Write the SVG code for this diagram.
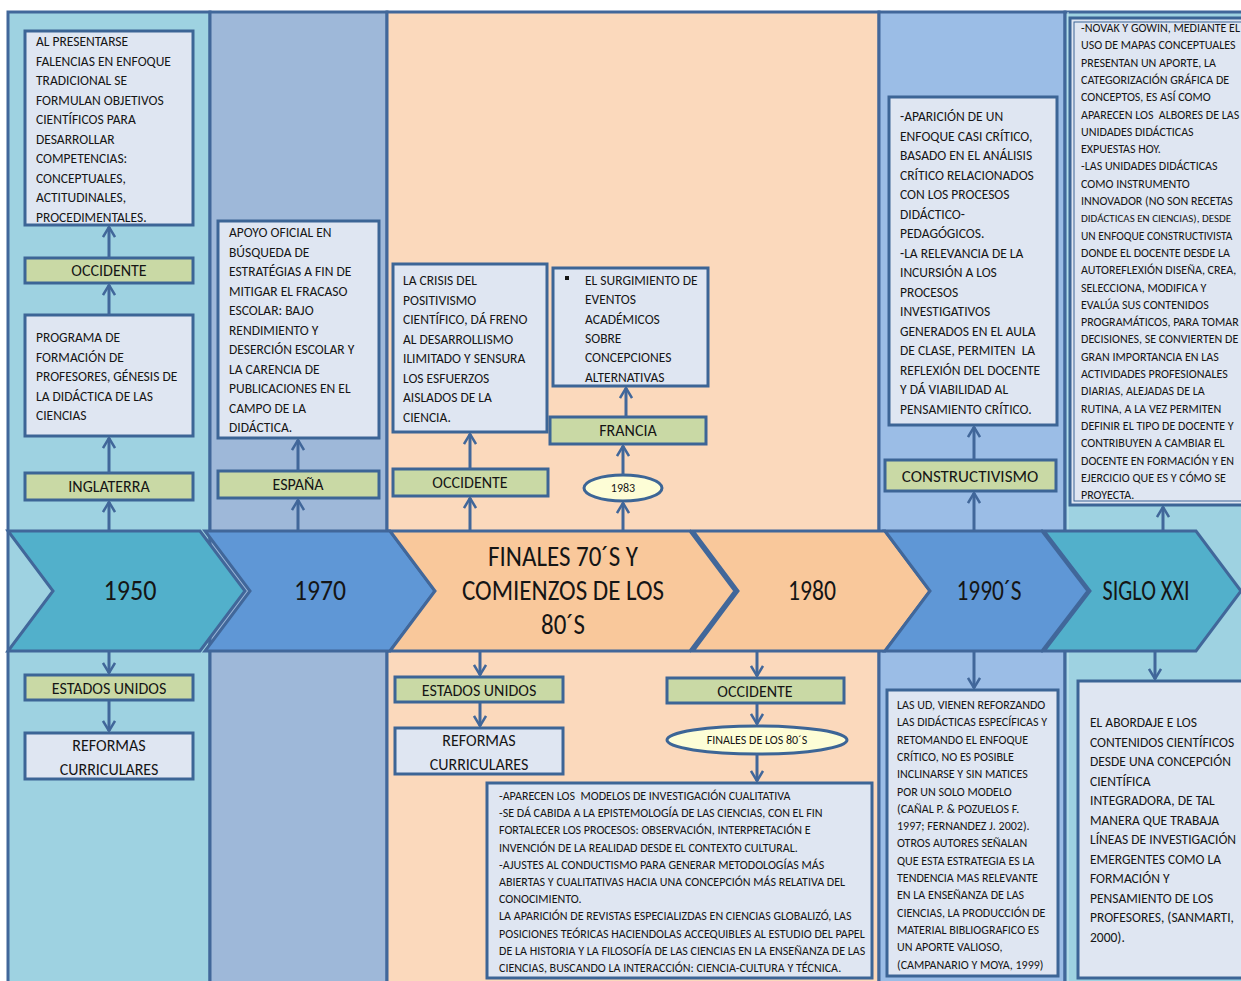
<svg xmlns="http://www.w3.org/2000/svg" width="1241" height="981" viewBox="0 0 1241 981">
<defs>
<style>
.col{stroke:#41679a;stroke-width:3}
.box{fill:#dfe6f2;stroke:#3c6596;stroke-width:3}
.lbl{fill:#c9d9a5;stroke:#3c6596;stroke-width:3}
.ell{fill:#fdfdd6;stroke:#3c6596;stroke-width:3}
.chev{stroke:#41679a;stroke-width:3;stroke-linejoin:miter}
text{font-family:"Liberation Sans Narrow","Carlito","Liberation Sans",sans-serif;fill:#151515}
.t{font-size:13.5px}
.s{font-size:12px}
.l{font-size:16px;text-anchor:middle}
.big{font-size:28px;text-anchor:middle}
.e{font-size:12px;text-anchor:middle}
.conn line{stroke:#41679a;stroke-width:3;marker-end:url(#ah)}
</style>
<marker id="ah" markerUnits="userSpaceOnUse" viewBox="0 0 12 14" refX="11" refY="7" markerWidth="12" markerHeight="14" orient="auto">
<path d="M1,1 L11,7 L1,13" fill="none" stroke="#41679a" stroke-width="2.5"/>
</marker>
</defs>
<rect width="1241" height="981" fill="#ffffff"/>
<g id="columns">
<rect class="col" x="8" y="12" width="202" height="975" fill="#9ed2e1"/>
<rect class="col" x="210" y="12" width="177" height="975" fill="#9eb8d9"/>
<rect class="col" x="387" y="12" width="492" height="975" fill="#fbd9bc"/>
<rect class="col" x="879" y="12" width="186" height="975" fill="#9bbde6"/>
<rect class="col" x="1065" y="12" width="190" height="975" fill="#9ed2e1"/>
<line x1="1068" y1="12" x2="1068" y2="981" stroke="#c4e4ee" stroke-width="1"/>
</g>
<g id="timeline">
<polygon class="chev" points="8,531 200,531 245,591 200,651 8,651 53,591" fill="#52b0cb"/>
<polygon class="chev" points="205,531 390,531 435,591 390,651 205,651 250,591" fill="#5f97d6"/>
<polygon class="chev" points="390,531 690,531 735,591 690,651 390,651 435,591" fill="#f9c89b"/>
<polygon class="chev" points="693,531 885,531 930,591 885,651 693,651 738,591" fill="#f9c89b"/>
<polygon class="chev" points="885,531 1042,531 1088,591 1042,651 885,651 930,591" fill="#5f97d6"/>
<polygon class="chev" points="1044,531 1196,531 1241,591 1196,651 1044,651 1090,591" fill="#52b0cb"/>
<text class="big" x="130" y="600" textLength="53" lengthAdjust="spacingAndGlyphs">1950</text>
<text class="big" x="320" y="600" textLength="52" lengthAdjust="spacingAndGlyphs">1970</text>
<text class="big" x="563" y="566" textLength="150" lengthAdjust="spacingAndGlyphs">FINALES 70´S Y</text>
<text class="big" x="563" y="600" textLength="202" lengthAdjust="spacingAndGlyphs">COMIENZOS DE LOS</text>
<text class="big" x="563" y="634" textLength="44" lengthAdjust="spacingAndGlyphs">80´S</text>
<text class="big" x="812" y="600" textLength="48" lengthAdjust="spacingAndGlyphs">1980</text>
<text class="big" x="989" y="600" textLength="65" lengthAdjust="spacingAndGlyphs">1990´S</text>
<text class="big" x="1146" y="600" textLength="87" lengthAdjust="spacingAndGlyphs">SIGLO XXI</text>
</g>
<g id="n-col1-text">
<rect class="box" x="25" y="31" width="168" height="194"/>
<text class="t" x="36" y="46"><tspan x="36">AL PRESENTARSE</tspan><tspan x="36" dy="19.5">FALENCIAS EN ENFOQUE</tspan><tspan x="36" dy="19.5">TRADICIONAL SE</tspan><tspan x="36" dy="19.5">FORMULAN OBJETIVOS</tspan><tspan x="36" dy="19.5">CIENTÍFICOS PARA</tspan><tspan x="36" dy="19.5">DESARROLLAR</tspan><tspan x="36" dy="19.5">COMPETENCIAS:</tspan><tspan x="36" dy="19.5">CONCEPTUALES,</tspan><tspan x="36" dy="19.5">ACTITUDINALES,</tspan><tspan x="36" dy="19.5">PROCEDIMENTALES.</tspan></text>
</g>
<g id="n-occidente1">
<rect class="lbl" x="25" y="258" width="168" height="25"/>
<text class="l" x="109" y="276">OCCIDENTE</text>
</g>
<g id="n-programa">
<rect class="box" x="25" y="315" width="168" height="121"/>
<text class="t" x="36" y="342"><tspan x="36">PROGRAMA DE</tspan><tspan x="36" dy="19.5">FORMACIÓN DE</tspan><tspan x="36" dy="19.5">PROFESORES, GÉNESIS DE</tspan><tspan x="36" dy="19.5">LA DIDÁCTICA DE LAS</tspan><tspan x="36" dy="19.5">CIENCIAS</tspan></text>
</g>
<g id="n-inglaterra">
<rect class="lbl" x="25" y="473" width="168" height="27"/>
<text class="l" x="109" y="492">INGLATERRA</text>
</g>
<g id="n-eeuu1">
<rect class="lbl" x="25" y="675" width="168" height="25"/>
<text class="l" x="109" y="694">ESTADOS UNIDOS</text>
</g>
<g id="n-reformas1">
<rect class="box" x="25" y="733" width="168" height="46"/>
<text class="l" x="109" y="751">REFORMAS</text>
<text class="l" x="109" y="775">CURRICULARES</text>
</g>
<g id="n-apoyo">
<rect class="box" x="218" y="221" width="161" height="217"/>
<text class="t" x="229" y="237"><tspan x="229">APOYO OFICIAL EN</tspan><tspan x="229" dy="19.5">BÚSQUEDA DE</tspan><tspan x="229" dy="19.5">ESTRATÉGIAS A FIN DE</tspan><tspan x="229" dy="19.5">MITIGAR EL FRACASO</tspan><tspan x="229" dy="19.5">ESCOLAR: BAJO</tspan><tspan x="229" dy="19.5">RENDIMIENTO Y</tspan><tspan x="229" dy="19.5">DESERCIÓN ESCOLAR Y</tspan><tspan x="229" dy="19.5">LA CARENCIA DE</tspan><tspan x="229" dy="19.5">PUBLICACIONES EN EL</tspan><tspan x="229" dy="19.5">CAMPO DE LA</tspan><tspan x="229" dy="19.5">DIDÁCTICA.</tspan></text>
</g>
<g id="n-espana">
<rect class="lbl" x="218" y="471" width="161" height="27"/>
<text class="l" x="298" y="490">ESPAÑA</text>
</g>
<g id="n-crisis">
<rect class="box" x="393" y="264" width="154" height="168"/>
<text class="t" x="403" y="285"><tspan x="403">LA CRISIS DEL</tspan><tspan x="403" dy="19.5">POSITIVISMO</tspan><tspan x="403" dy="19.5">CIENTÍFICO, DÁ FRENO</tspan><tspan x="403" dy="19.5">AL DESARROLLISMO</tspan><tspan x="403" dy="19.5">ILIMITADO Y SENSURA</tspan><tspan x="403" dy="19.5">LOS ESFUERZOS</tspan><tspan x="403" dy="19.5">AISLADOS DE LA</tspan><tspan x="403" dy="19.5">CIENCIA.</tspan></text>
</g>
<g id="n-occidente2">
<rect class="lbl" x="393" y="469" width="155" height="27"/>
<text class="l" x="470" y="488">OCCIDENTE</text>
</g>
<g id="n-surgimiento">
<rect class="box" x="553" y="268" width="155" height="118"/>
<rect x="565" y="276" width="4" height="4" fill="#151515"/>
<text class="t" x="585" y="285"><tspan x="585">EL SURGIMIENTO DE</tspan><tspan x="585" dy="19.3">EVENTOS</tspan><tspan x="585" dy="19.3">ACADÉMICOS</tspan><tspan x="585" dy="19.3">SOBRE</tspan><tspan x="585" dy="19.3">CONCEPCIONES</tspan><tspan x="585" dy="19.3">ALTERNATIVAS</tspan></text>
</g>
<g id="n-francia">
<rect class="lbl" x="550" y="417" width="156" height="27"/>
<text class="l" x="628" y="436">FRANCIA</text>
</g>
<g id="n-1983">
<ellipse class="ell" cx="623" cy="488" rx="39" ry="13"/>
<text class="e" x="623" y="492">1983</text>
</g>
<g id="n-eeuu2">
<rect class="lbl" x="395" y="677" width="168" height="25"/>
<text class="l" x="479" y="696">ESTADOS UNIDOS</text>
</g>
<g id="n-reformas2">
<rect class="box" x="395" y="728" width="168" height="46"/>
<text class="l" x="479" y="746">REFORMAS</text>
<text class="l" x="479" y="770">CURRICULARES</text>
</g>
<g id="n-occidente3">
<rect class="lbl" x="667" y="678" width="177" height="25"/>
<text class="l" x="755" y="697">OCCIDENTE</text>
</g>
<g id="n-finales80">
<ellipse class="ell" cx="757" cy="740" rx="90" ry="14"/>
<text class="e" x="757" y="744">FINALES DE LOS 80´S</text>
</g>
<g id="n-aparecen">
<rect class="box" x="487" y="783" width="385" height="195"/>
<text class="s" x="499" y="800"><tspan x="499">-APARECEN LOS&#160; MODELOS DE INVESTIGACIÓN CUALITATIVA</tspan><tspan x="499" dy="17.2">-SE DÁ CABIDA A LA EPISTEMOLOGÍA DE LAS CIENCIAS, CON EL FIN</tspan><tspan x="499" dy="17.2">FORTALECER LOS PROCESOS: OBSERVACIÓN, INTERPRETACIÓN E</tspan><tspan x="499" dy="17.2">INVENCIÓN DE LA REALIDAD DESDE EL CONTEXTO CULTURAL.</tspan><tspan x="499" dy="17.2">-AJUSTES AL CONDUCTISMO PARA GENERAR METODOLOGÍAS MÁS</tspan><tspan x="499" dy="17.2">ABIERTAS Y CUALITATIVAS HACIA UNA CONCEPCIÓN MÁS RELATIVA DEL</tspan><tspan x="499" dy="17.2">CONOCIMIENTO.</tspan><tspan x="499" dy="17.2">LA APARICIÓN DE REVISTAS ESPECIALIZDAS EN CIENCIAS GLOBALIZÓ, LAS</tspan><tspan x="499" dy="17.2">POSICIONES TEÓRICAS HACIENDOLAS ACCEQUIBLES AL ESTUDIO DEL PAPEL</tspan><tspan x="499" dy="17.2">DE LA HISTORIA Y LA FILOSOFÍA DE LAS CIENCIAS EN LA ENSEÑANZA DE LAS</tspan><tspan x="499" dy="17.2">CIENCIAS, BUSCANDO LA INTERACCIÓN: CIENCIA-CULTURA Y TÉCNICA.</tspan></text>
</g>
<g id="n-aparicion">
<rect class="box" x="889" y="97" width="168" height="328"/>
<text class="t" x="900" y="121"><tspan x="900">-APARICIÓN DE UN</tspan><tspan x="900" dy="19.5">ENFOQUE CASI CRÍTICO,</tspan><tspan x="900" dy="19.5">BASADO EN EL ANÁLISIS</tspan><tspan x="900" dy="19.5">CRÍTICO RELACIONADOS</tspan><tspan x="900" dy="19.5">CON LOS PROCESOS</tspan><tspan x="900" dy="19.5">DIDÁCTICO-</tspan><tspan x="900" dy="19.5">PEDAGÓGICOS.</tspan><tspan x="900" dy="19.5">-LA RELEVANCIA DE LA</tspan><tspan x="900" dy="19.5">INCURSIÓN A LOS</tspan><tspan x="900" dy="19.5">PROCESOS</tspan><tspan x="900" dy="19.5">INVESTIGATIVOS</tspan><tspan x="900" dy="19.5">GENERADOS EN EL AULA</tspan><tspan x="900" dy="19.5">DE CLASE, PERMITEN&#160; LA</tspan><tspan x="900" dy="19.5">REFLEXIÓN DEL DOCENTE</tspan><tspan x="900" dy="19.5">Y DÁ VIABILIDAD AL</tspan><tspan x="900" dy="19.5">PENSAMIENTO CRÍTICO.</tspan></text>
</g>
<g id="n-constructivismo">
<rect class="lbl" x="885" y="460" width="171" height="31"/>
<text class="l" x="970" y="482" style="font-size:17px">CONSTRUCTIVISMO</text>
</g>
<g id="n-lasud">
<rect class="box" x="887" y="690" width="171" height="286"/>
<text class="s" x="897" y="709"><tspan x="897">LAS UD, VIENEN REFORZANDO</tspan><tspan x="897" dy="17.3">LAS DIDÁCTICAS ESPECÍFICAS Y</tspan><tspan x="897" dy="17.3">RETOMANDO EL ENFOQUE</tspan><tspan x="897" dy="17.3">CRÍTICO, NO ES POSIBLE</tspan><tspan x="897" dy="17.3">INCLINARSE Y SIN MATICES</tspan><tspan x="897" dy="17.3">POR UN SOLO MODELO</tspan><tspan x="897" dy="17.3">(CAÑAL P. &amp; POZUELOS F.</tspan><tspan x="897" dy="17.3">1997; FERNANDEZ J. 2002).</tspan><tspan x="897" dy="17.3">OTROS AUTORES SEÑALAN</tspan><tspan x="897" dy="17.3">QUE ESTA ESTRATEGIA ES LA</tspan><tspan x="897" dy="17.3">TENDENCIA MAS RELEVANTE</tspan><tspan x="897" dy="17.3">EN LA ENSEÑANZA DE LAS</tspan><tspan x="897" dy="17.3">CIENCIAS, LA PRODUCCIÓN DE</tspan><tspan x="897" dy="17.3">MATERIAL BIBLIOGRAFICO ES</tspan><tspan x="897" dy="17.3">UN APORTE VALIOSO,</tspan><tspan x="897" dy="17.3">(CAMPANARIO Y MOYA, 1999)</tspan></text>
</g>
<g id="n-novak">
<rect class="box" x="1070" y="18" width="185" height="487"/>
<rect x="1074" y="22" width="180" height="479" fill="none" stroke="#3c6596" stroke-width="1"/>
<text class="s" x="1081" y="32"><tspan x="1081">-NOVAK Y GOWIN, MEDIANTE EL</tspan><tspan x="1081" dy="17.3">USO DE MAPAS CONCEPTUALES</tspan><tspan x="1081" dy="17.3">PRESENTAN UN APORTE, LA</tspan><tspan x="1081" dy="17.3">CATEGORIZACIÓN GRÁFICA DE</tspan><tspan x="1081" dy="17.3">CONCEPTOS, ES ASÍ COMO</tspan><tspan x="1081" dy="17.3">APARECEN LOS&#160; ALBORES DE LAS</tspan><tspan x="1081" dy="17.3">UNIDADES DIDÁCTICAS</tspan><tspan x="1081" dy="17.3">EXPUESTAS HOY.</tspan><tspan x="1081" dy="17.3">-LAS UNIDADES DIDÁCTICAS</tspan><tspan x="1081" dy="17.3">COMO INSTRUMENTO</tspan><tspan x="1081" dy="17.3">INNOVADOR (NO SON RECETAS</tspan></text>
<text x="1081" y="222.3" style="font-size:11px">DIDÁCTICAS EN CIENCIAS), DESDE</text>
<text x="1081" y="239.6" style="font-size:11.4px">UN ENFOQUE CONSTRUCTIVISTA</text>
<text class="s" x="1081" y="256.9"><tspan x="1081">DONDE EL DOCENTE DESDE LA</tspan><tspan x="1081" dy="17.3">AUTOREFLEXIÓN DISEÑA, CREA,</tspan><tspan x="1081" dy="17.3">SELECCIONA, MODIFICA Y</tspan><tspan x="1081" dy="17.3">EVALÚA SUS CONTENIDOS</tspan><tspan x="1081" dy="17.3">PROGRAMÁTICOS, PARA TOMAR</tspan><tspan x="1081" dy="17.3">DECISIONES, SE CONVIERTEN DE</tspan><tspan x="1081" dy="17.3">GRAN IMPORTANCIA EN LAS</tspan><tspan x="1081" dy="17.3">ACTIVIDADES PROFESIONALES</tspan><tspan x="1081" dy="17.3">DIARIAS, ALEJADAS DE LA</tspan><tspan x="1081" dy="17.3">RUTINA, A LA VEZ PERMITEN</tspan><tspan x="1081" dy="17.3">DEFINIR EL TIPO DE DOCENTE Y</tspan><tspan x="1081" dy="17.3">CONTRIBUYEN A CAMBIAR EL</tspan><tspan x="1081" dy="17.3">DOCENTE EN FORMACIÓN Y EN</tspan><tspan x="1081" dy="17.3">EJERCICIO QUE ES Y CÓMO SE</tspan><tspan x="1081" dy="17.3">PROYECTA.</tspan></text>
</g>
<g id="n-abordaje">
<rect class="box" x="1078" y="681" width="175" height="297"/>
<text class="t" x="1090" y="727"><tspan x="1090">EL ABORDAJE E LOS</tspan><tspan x="1090" dy="19.5">CONTENIDOS CIENTÍFICOS</tspan><tspan x="1090" dy="19.5">DESDE UNA CONCEPCIÓN</tspan><tspan x="1090" dy="19.5">CIENTÍFICA</tspan><tspan x="1090" dy="19.5">INTEGRADORA, DE TAL</tspan><tspan x="1090" dy="19.5">MANERA QUE TRABAJA</tspan><tspan x="1090" dy="19.5">LÍNEAS DE INVESTIGACIÓN</tspan><tspan x="1090" dy="19.5">EMERGENTES COMO LA</tspan><tspan x="1090" dy="19.5">FORMACIÓN Y</tspan><tspan x="1090" dy="19.5">PENSAMIENTO DE LOS</tspan><tspan x="1090" dy="19.5">PROFESORES, (SANMARTI,</tspan><tspan x="1090" dy="19.5">2000).</tspan></text>
</g>
<g id="connectors" class="conn">
<line x1="109" y1="258" x2="109" y2="227"/>
<line x1="109" y1="315" x2="109" y2="285"/>
<line x1="109" y1="473" x2="109" y2="438"/>
<line x1="109" y1="530" x2="109" y2="502"/>
<line x1="109" y1="652" x2="109" y2="673"/>
<line x1="109" y1="701" x2="109" y2="731"/>
<line x1="298" y1="471" x2="298" y2="440"/>
<line x1="298" y1="530" x2="298" y2="500"/>
<line x1="470" y1="469" x2="470" y2="434"/>
<line x1="470" y1="530" x2="470" y2="498"/>
<line x1="626" y1="417" x2="626" y2="388"/>
<line x1="623" y1="475" x2="623" y2="446"/>
<line x1="623" y1="530" x2="623" y2="503"/>
<line x1="480" y1="652" x2="480" y2="675"/>
<line x1="480" y1="703" x2="480" y2="726"/>
<line x1="757" y1="652" x2="757" y2="676"/>
<line x1="757" y1="704" x2="757" y2="724"/>
<line x1="757" y1="754" x2="757" y2="781"/>
<line x1="974" y1="460" x2="974" y2="427"/>
<line x1="974" y1="530" x2="974" y2="493"/>
<line x1="974" y1="652" x2="974" y2="688"/>
<line x1="1163" y1="530" x2="1163" y2="507"/>
<line x1="1155" y1="652" x2="1155" y2="679"/>
</g>
</svg>
